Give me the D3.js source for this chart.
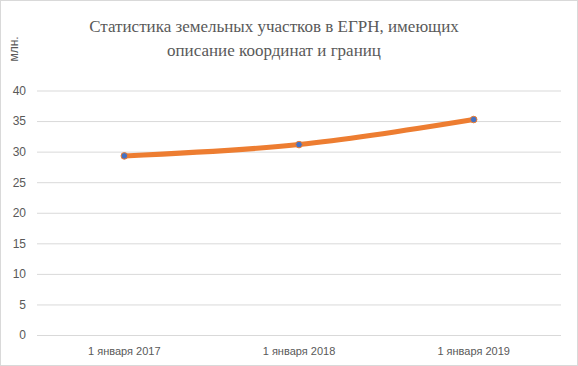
<!DOCTYPE html>
<html><head><meta charset="utf-8">
<script src="https://cdn.jsdelivr.net/npm/d3@7"></script>
<style>body{margin:0;background:#fff}svg{display:block}</style>
</head><body>
<svg id="c" width="578" height="366"></svg>
<script>
const categories = ["1 января 2017", "1 января 2018", "1 января 2019"];
const values = [29.3, 31.15, 35.25];
const yTicks = [0, 5, 10, 15, 20, 25, 30, 35, 40];
const titleLines = ["Статистика земельных участков в ЕГРН, имеющих", "описание координат и границ"];
const yAxisTitle = "млн.";

const W = 578, H = 366;
const m = {left: 37, right: 17, top: 90.5, bottom: 31};
const svg = d3.select("#c");
svg.append("rect").attr("x",0.5).attr("y",0.5).attr("width",W-1).attr("height",H-1)
  .attr("fill","#fff").attr("stroke","#d9d9d9");

const x = d3.scaleBand().domain(categories).range([m.left, W - m.right]);
const y = d3.scaleLinear().domain([0, 40]).range([H - m.bottom, m.top]);

const yAxis = d3.axisLeft(y).tickValues(yTicks).tickSize(-(W - m.right - m.left)).tickPadding(11);
const gy = svg.append("g").attr("transform", `translate(${m.left},0)`).call(yAxis);
gy.select(".domain").remove();
gy.selectAll(".tick line").attr("stroke", "#d9d9d9").attr("stroke-width", 1);
gy.selectAll(".tick text").attr("fill", "#595959").style("font-family", "'Liberation Sans', Arial, sans-serif").style("font-size", "12px");

const xAxis = d3.axisBottom(x).tickSize(0).tickPadding(12);
const gx = svg.append("g").attr("transform", `translate(0,${H - m.bottom})`).call(xAxis);
gx.select(".domain").remove();
gx.selectAll(".tick text").attr("fill", "#595959").style("font-family", "'Liberation Sans', Arial, sans-serif").style("font-size", "11px");

const data = categories.map((c, i) => ({c, v: values[i]}));
const line = d3.line().x(d => x(d.c) + x.bandwidth()/2).y(d => y(d.v)).curve(d3.curveCatmullRom.alpha(0.5));
svg.append("path").datum(data).attr("d", line).attr("fill", "none")
  .attr("stroke", "#ED7D31").attr("stroke-width", 5).attr("stroke-linecap", "round");
svg.selectAll("circle.pt").data(data).enter().append("circle").attr("class","pt")
  .attr("cx", d => x(d.c) + x.bandwidth()/2).attr("cy", d => y(d.v)).attr("r", 3.3)
  .attr("fill", "#4472C4").attr("stroke", "#ED7D31").attr("stroke-width", 1);

const t = svg.append("text").attr("text-anchor", "middle")
  .style("font-family", "'Liberation Serif', 'Times New Roman', serif").style("font-size", "17px").attr("fill", "#595959");
titleLines.forEach((s, i) => t.append("tspan").attr("x", 274).attr("y", 32 + i * 24).text(s));

svg.append("text").attr("transform", "translate(18,49) rotate(-90)").attr("text-anchor", "middle")
  .style("font-family", "'Liberation Sans', Arial, sans-serif").style("font-size", "12px").attr("fill", "#595959").text(yAxisTitle);
</script>
</body></html>
